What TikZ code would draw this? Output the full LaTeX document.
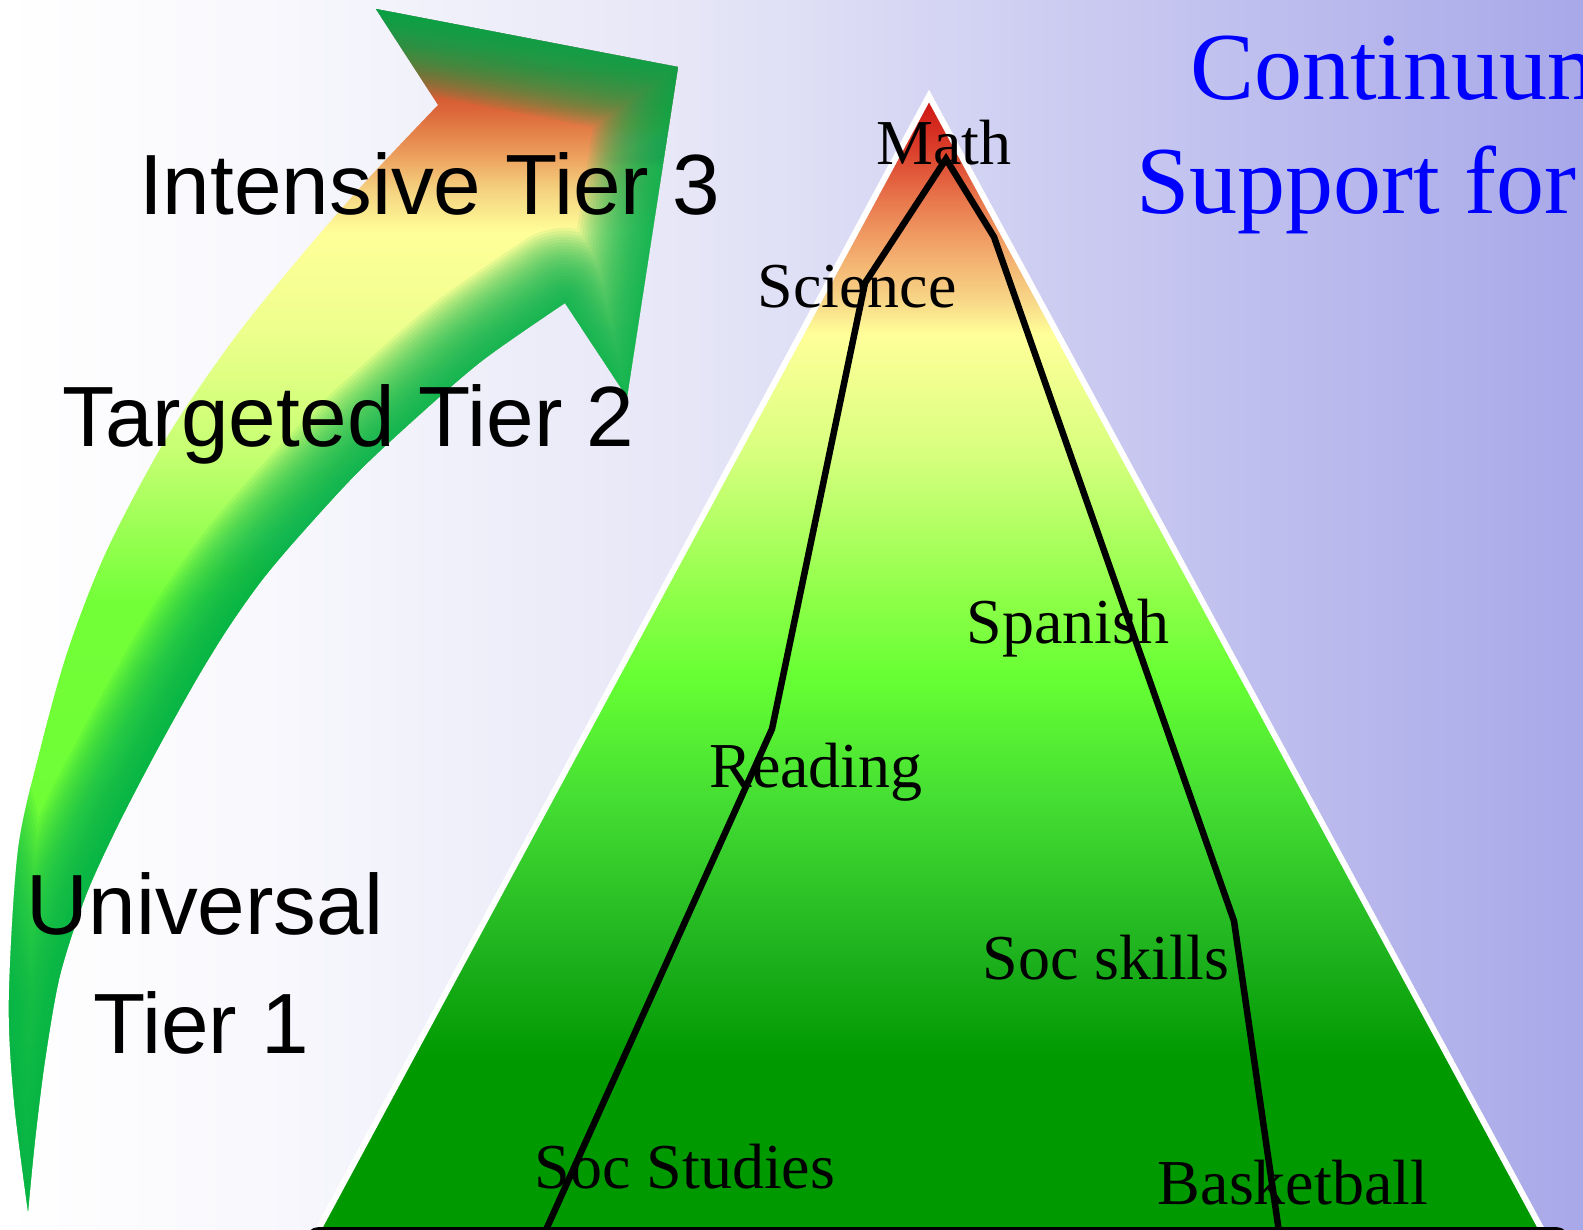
\documentclass[tikz,border=0pt]{standalone}
\usepackage{fontspec}
\usetikzlibrary{calc}
\setmainfont{Liberation Serif}
\newfontfamily\arialf{Liberation Sans}
\definecolor{edgegreen}{RGB}{0,176,80}
\definecolor{titleblue}{RGB}{0,0,255}
\pgfdeclarehorizontalshading{bgshade}{100bp}{rgb(0bp)=(1,1,1); rgb(25bp)=(1,1,1); rgb(32.9bp)=(.975,.975,.993); rgb(47.1bp)=(.90,.90,.968); rgb(59.7bp)=(.79,.79,.945); rgb(75bp)=(.66,.66,.915); rgb(100bp)=(.66,.66,.915)}
\pgfdeclareverticalshading{pyrshade}{100bp}{rgb(0bp)=(0,.6,0); rgb(25bp)=(0,.6,0); rgb(32.5bp)=(0,.6,0); rgb(37.3bp)=(.12,.70,.12); rgb(44bp)=(.27,.87,.2); rgb(49.3bp)=(.40,1,.2); rgb(52.8bp)=(.55,1,.28); rgb(59.4bp)=(.85,1,.5); rgb(64.5bp)=(1,1,.6); rgb(66bp)=(.97,.84,.53); rgb(68.2bp)=(.95,.66,.42); rgb(70.4bp)=(.91,.47,.30); rgb(72.6bp)=(.86,.25,.17); rgb(75bp)=(.80,.07,.07); rgb(100bp)=(.80,.07,.07)}
\pgfdeclareverticalshading{arrshade}{100bp}{rgb(0bp)=(.40,.98,.2); rgb(25bp)=(.40,.98,.2); rgb(50.4bp)=(.45,1,.22); rgb(56.7bp)=(.78,1,.45); rgb(61.6bp)=(.93,1,.55); rgb(65.7bp)=(1,1,.6); rgb(67.5bp)=(.96,.82,.50); rgb(69.1bp)=(.92,.60,.35); rgb(70.8bp)=(.86,.40,.22); rgb(72.3bp)=(.80,.30,.17); rgb(73.7bp)=(.70,.30,.18); rgb(75bp)=(.50,.38,.20); rgb(100bp)=(.50,.38,.20)}
\begin{document}
\begin{tikzpicture}[x=1pt,y=-1pt,
  sanslbl/.style={font=\arialf\fontsize{85.5}{100}\selectfont, inner sep=0pt, anchor=base west},
  sansc/.style={font=\arialf\fontsize{85.5}{100}\selectfont, inner sep=0pt, anchor=base},
  serlbl/.style={font=\fontsize{64}{76}\selectfont, inner sep=0pt, anchor=base},
  titlelbl/.style={font=\fontsize{96}{115}\selectfont, text=titleblue, inner sep=0pt, anchor=base west},
  greenedge/.style={draw=edgegreen, opacity=0.08, line join=round},
  pathline/.style={draw=black, line width=6.5pt}]
\useasboundingbox (0,0) rectangle (1583,1230);
% background
\shade[shading=bgshade] (0,0) rectangle (1583,1230);
% curved arrow
\shade[shading=arrshade] plot[smooth,tension=0.5] coordinates {(28,1211) (14,1100) (9,1000) (18,850) (40,750) (68,650) (107,550) (167,437) (233,340) (300,257) (367,180) (438,105)} -- (376,9) -- (678,67) -- (627,397) -- plot[smooth,tension=0.5] coordinates {(565,303) (483,360) (417,417) (357,473) (300,535) (262,580) (228,628) (196,680) (157,750) (118,825) (86,895) (60,975) (45,1060) (35,1140) (28,1211)} -- cycle;
\begin{scope}
\clip plot[smooth,tension=0.5] coordinates {(28,1211) (14,1100) (9,1000) (18,850) (40,750) (68,650) (107,550) (167,437) (233,340) (300,257) (367,180) (438,105)} -- (376,9) -- (678,67) -- (627,397) -- plot[smooth,tension=0.5] coordinates {(565,303) (483,360) (417,417) (357,473) (300,535) (262,580) (228,628) (196,680) (157,750) (118,825) (86,895) (60,975) (45,1060) (35,1140) (28,1211)} -- cycle;
\foreach \w in {150,144,...,6}{
  \draw[greenedge, line width=\w pt] (-90,620) -- plot[smooth,tension=0.5] coordinates {(9,1000) (14,1100) (28,1211)} -- plot[smooth,tension=0.5] coordinates {(28,1211) (35,1140) (45,1060) (60,975) (86,895) (118,825) (157,750) (196,680) (228,628) (262,580) (300,535) (357,473) (417,417) (483,360) (565,303)} -- (627,397) -- (678,67) -- (376,9);
}
\end{scope}
% pyramid
\coordinate (apex) at (929,96);
\coordinate (bl) at (318,1230);
\coordinate (br) at (1542,1230);
\shade[shading=pyrshade] (apex) -- (br) -- (bl) -- cycle;
\draw[white, line width=6pt, line join=miter] (apex) -- (br) -- (bl) -- cycle;
% bottom bar
\coordinate (barl) at (307,1229);
\coordinate (barr) at (1568,1229);
\draw[line width=4pt, rounded corners=12pt] ($(barl)+(0,60)$) -- (barl) -- (barr) -- ($(barr)+(0,60)$);
% path line
\coordinate (p1) at (545,1232);
\coordinate (p2) at (772,729);
\coordinate (p3) at (865,283);
\coordinate (p4) at (946,159);
\coordinate (p5) at (994,237);
\coordinate (p6) at (1234,921);
\coordinate (p7) at (1279,1232);
\draw[pathline] (p1) -- (p2) -- (p3) -- (p4) -- (p5) -- (p6) -- (p7);
% labels
\node[serlbl] (math) at (944,165) {Math};
\node[serlbl] (sci) at (857,308) {Science};
\node[serlbl] (span) at (1068,643) {Spanish};
\node[serlbl] (read) at (816,787) {Reading};
\node[serlbl] (socsk) at (1106,979) {Soc skills};
\node[serlbl] (socst) at (685,1188) {Soc Studies};
\node[serlbl] (bask) at (1293,1204) {Basketball};
\node[sanslbl] (t3) at (139,215) {Intensive Tier 3};
\node[sanslbl] (t2) at (62,447) {Targeted Tier 2};
\node[sansc] (univ) at (205,934) {Universal};
\node[sansc] (t1) at (201,1053) {Tier 1};
\node[titlelbl] (title1) at (1190,100) {Continuum};
\node[titlelbl] (title2) at (1136,214) {Support for};
\end{tikzpicture}
\end{document}
